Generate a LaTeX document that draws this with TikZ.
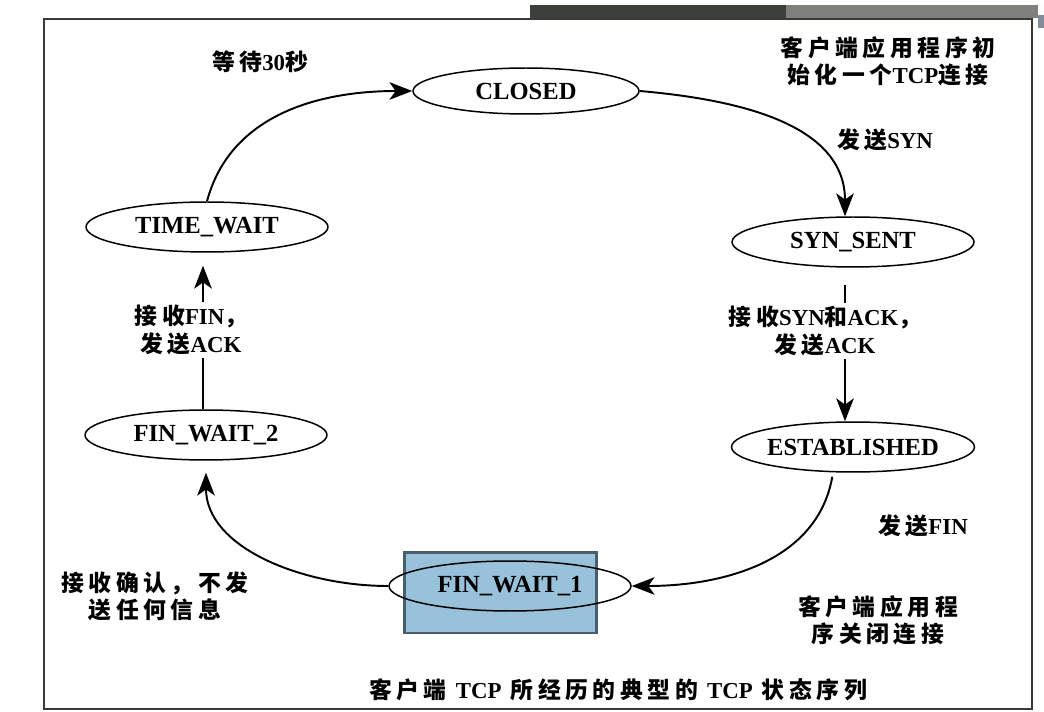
\documentclass[tikz,border=0pt]{standalone}
\usepackage{fontspec}
\setmainfont{Liberation Serif}
\newfontfamily\cjk{Noto Sans CJK SC}[LetterSpace=20]
\usetikzlibrary{shapes}
\usetikzlibrary{arrows.meta}
\usetikzlibrary{calc}

\definecolor{framegray}{RGB}{58,58,56}
\definecolor{bardark}{RGB}{60,63,58}
\definecolor{barlight}{RGB}{128,129,125}
\definecolor{hiliteblue}{RGB}{152,193,218}
\definecolor{hiliteedge}{RGB}{74,94,110}

\tikzset{
  state/.style={draw, ellipse, line width=0.85pt, inner sep=0pt,
    minimum width=4.84cm, minimum height=1cm,
    font=\fontsize{14}{16}\selectfont\bfseries},
  lbl/.style={font=\fontsize{13}{15.5}\selectfont\bfseries, align=center},
  trans/.style={line width=1.1pt, -{Stealth[length=13pt, width=10pt, inset=3.5pt]}}
}

\begin{document}
\begin{tikzpicture}[x=0.02cm, y=-0.02cm]
  \path[use as bounding box] (0, 0) rectangle (1044, 712);

  % slide frame
  \fill[bardark] (530, 5) rectangle (786, 18);
  \fill[barlight] (786, 5) rectangle (1038, 18);
  \fill[hiliteedge!70] (1038, 15) rectangle (1044, 28);
  \draw[framegray, line width=1.4pt] (44, 19) rectangle (1032, 709);

  \node[fill=hiliteblue, draw=hiliteedge, line width=1.7pt,
    minimum width=3.86cm, minimum height=1.62cm] at (500.5, 592.5) (hilite) {};

  % states
  \node[state, minimum width=4.52cm, minimum height=0.92cm] at (526, 91) (closed) {CLOSED};
  \node[state] at (853, 242) (synsent) {SYN\_SENT};
  \node[state] at (853, 447) (estab) {ESTABLISHED};
  \node[state] at (510, 586) (finwait1) {FIN\_WAIT\_1};
  \node[state] at (206, 435) (finwait2) {FIN\_WAIT\_2};
  \node[state] at (207, 227) (timewait) {TIME\_WAIT};

  % transitions
  \draw[trans] (timewait.north) to[out=75, in=180] (closed.west);
  \draw[trans] (closed.east) to[out=-5, in=90] ([xshift=-0.16cm]synsent.north);
  \draw[trans, shorten <=0.34cm] ([xshift=-0.16cm]synsent.south) -- ([xshift=-0.16cm]estab.north);
  \draw[trans, shorten <=0.08cm] ([xshift=-0.4cm]estab.south) to[out=-100, in=0] (finwait1.east);
  \draw[trans, shorten >=0.24cm] (finwait1.west) to[out=180, in=-90] (finwait2.south);
  \draw[trans, shorten >=0.26cm] ([xshift=-0.06cm]finwait2.north) -- ([xshift=-0.08cm]timewait.south);

  % labels
  \node[lbl] at (260, 62) (wait30) {{\cjk 等待}30{\cjk 秒}};
  \node[lbl] at (888, 61) (cliinit) {{\cjk 客户端应用程序初}\\{\cjk 始化一个}TCP{\cjk 连接}};
  \node[lbl] at (885, 140) (sendsyn) {{\cjk 发送}SYN};
  \node[lbl, fill=white, inner sep=2pt] at (825, 331) (synack) {{\cjk 接收}SYN{\cjk 和}ACK{\cjk ，}\\{\cjk 发送}ACK};
  \node[lbl] at (923, 526) (sendfin) {{\cjk 发送}FIN};
  \node[lbl] at (878, 620) (cliclose) {{\cjk 客户端应用程}\\{\cjk 序关闭连接}};
  \node[lbl] at (155, 596) (recvack) {{\cjk 接收确认，不发}\\{\cjk 送任何信息}};
  \node[lbl, fill=white, inner sep=2pt] at (191, 330) (recvfin) {{\cjk 接收}FIN{\cjk ，}\\{\cjk 发送}ACK};
  \node[lbl] at (618, 690) (caption) {{\cjk 客户端}\hspace{0.4em}TCP\hspace{0.4em}{\cjk 所经历的典型的}\hspace{0.4em}TCP\hspace{0.4em}{\cjk 状态序列}};
\end{tikzpicture}
\end{document}
